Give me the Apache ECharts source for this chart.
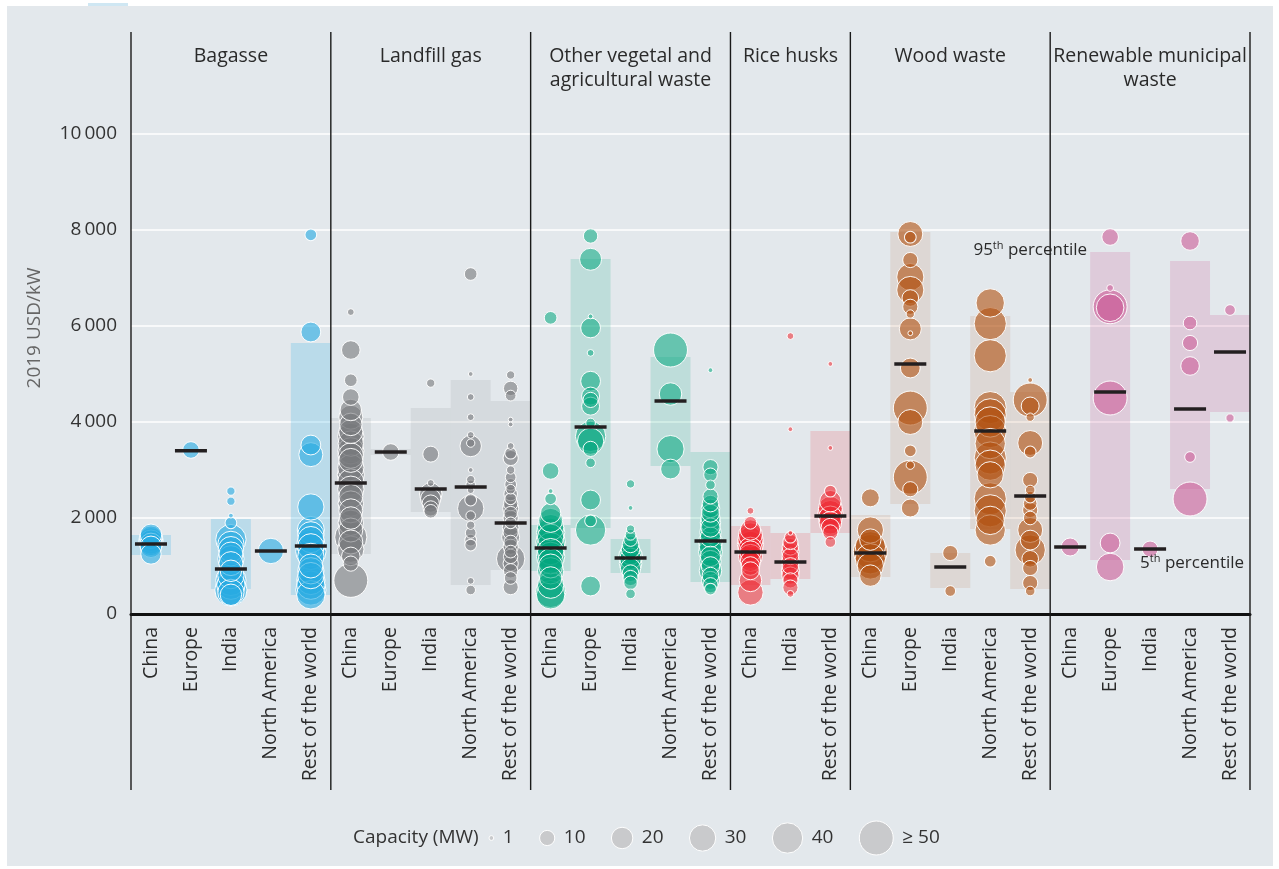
<!DOCTYPE html>
<html><head><meta charset="utf-8">
<script src="https://cdn.jsdelivr.net/npm/echarts@6/dist/echarts.min.js"></script>
<style>html,body{margin:0;padding:0;background:#fff;}#c{width:1279px;height:869px;}</style>
</head><body><div id="c"></div>
<script>
// ---------------- DATA ----------------
const regions5 = ['China', 'Europe', 'India', 'North America', 'Rest of the world'];
const regions3 = ['China', 'India', 'Rest of the world'];
const groupNames = ['Bagasse', 'Landfill gas', 'Other vegetal and\nagricultural waste', 'Rice husks', 'Wood waste', 'Renewable municipal\nwaste'];
const yTicks = [0, 2000, 4000, 6000, 8000, 10000];
const legendCapacities = [1, 10, 20, 30, 40, 50];
const legendLabels = ['1', '10', '20', '30', '40', '\u2265 50'];

// points: [2019 USD/kW, capacity MW], one list per region
const bagassePoints = [
  [[1650,20],[1600,22],[1550,25],[1500,25],[1450,22],[1400,20],[1250,18]],
  [[3417,12]],
  [[2560,3],[2350,3],[2050,1],[1900,6],[1550,40],[1450,30],[1350,28],[1250,25],[1150,30],[1050,25],[900,20],[800,30],[700,40],[600,35],[500,45],[450,30],[400,20]],
  [[1313,28]],
  [[7900,6],[5875,17],[3520,17],[3320,25],[2230,30],[1750,32],[1650,30],[1550,30],[1450,35],[1400,30],[1300,40],[1200,30],[1000,25],[900,30],[800,30],[700,35],[600,35],[500,40],[400,35]]
];
const bagasseMedian = [1458, 3400, 938, 1313, 1417];
const bagasseP5 = [1229, null, 521, null, 396];
const bagasseP95 = [1646, null, 1979, null, 5646];

const landfillPoints = [
  [[6290,2],[5500,15],[4870,7],[4520,12],[4250,20],[4100,25],[3950,22],[3800,25],[3700,30],[3550,28],[3400,30],[3300,28],[3200,25],[3050,30],[2900,32],[2750,30],[2600,30],[2450,25],[2300,28],[2150,25],[2000,22],[1900,28],[1750,25],[1600,45],[1500,25],[1350,30],[1200,15],[1050,10],[700,50]],
  [[3375,12]],
  [[4810,3],[3330,11],[2730,2],[2500,22],[2400,18],[2300,13],[2200,10],[2140,8]],
  [[7083,7],[5000,1],[4520,2],[4100,2],[3730,2],[3560,3],[3500,20],[3000,1],[2800,3],[2690,4],[2580,2],[2375,6],[2200,30],[2050,4],[1850,3],[1690,5],[1540,6],[1437,6],[690,2],[500,4]],
  [[4980,3],[4700,9],[4550,5],[4050,1],[3950,1],[3500,2],[3350,6],[3250,10],[3000,3],[2850,5],[2700,6],[2600,4],[2500,8],[2400,6],[2300,9],[2200,11],[2100,8],[2000,10],[1900,6],[1800,12],[1700,10],[1600,14],[1500,8],[1400,10],[1300,7],[1200,9],[1150,35],[1050,10],[900,9],[750,7],[560,10]]
];
const landfillMedian = [2729, 3375, 2604, 2646, 1896];
const landfillP5 = [1250, 3310, 2125, 604, 917];
const landfillP95 = [4083, 3440, 4292, 4875, 4437];

const vegetalPoints = [
  [[6170,7],[2980,12],[2560,1],[2400,6],[2100,18],[1950,25],[1800,30],[1700,35],[1600,30],[1500,38],[1400,35],[1300,30],[1200,35],[1100,28],[1000,25],[900,30],[750,22],[600,30],[450,40],[400,35]],
  [[7875,9],[7390,21],[6200,1],[5960,17],[5440,2],[4850,17],[4540,14],[4460,10],[4330,14],[3980,4],[3700,40],[3600,30],[3440,10],[3150,4],[2375,17],[1940,6],[1750,40],[583,17]],
  [[2710,3],[2210,1],[1770,3],[1650,5],[1550,8],[1450,12],[1350,15],[1250,20],[1200,25],[1150,20],[1050,22],[950,18],[850,12],[750,10],[650,8],[420,4]],
  [[5500,50],[4583,22],[3437,32],[3020,17]],
  [[5080,1],[3060,10],[2900,8],[2690,4],[2450,10],[2300,12],[2200,15],[2100,14],[2000,16],[1900,18],[1800,16],[1700,20],[1600,18],[1500,25],[1400,22],[1300,25],[1200,18],[1100,20],[1000,15],[900,22],[800,12],[700,14],[600,10],[520,6]]
];
const vegetalMedian = [1375, 3896, 1167, 4437, 1521];
const vegetalP5 = [896, 1792, 854, 3083, 667];
const vegetalP95 = [1854, 7396, 1562, 5354, 3375];

const ricePoints = [
  [[2150,2],[1900,7],[1750,18],[1650,25],[1550,28],[1450,30],[1350,25],[1300,20],[1200,25],[1100,18],[1000,15],[900,14],[700,22],[450,28]],
  [[5790,2],[3850,1],[1690,1],[1600,6],[1500,10],[1400,12],[1300,13],[1200,12],[1100,14],[1000,12],[900,14],[800,13],[700,10],[550,10],[420,2]],
  [[5210,1],[3460,1],[2560,6],[2350,20],[2200,25],[2100,28],[2000,25],[1900,22],[1800,15],[1700,10],[1500,5]]
];
const riceMedian = [1292, 1083, 2042];
const riceP5 = [604, 729, 1688];
const riceP95 = [1833, 1688, 3812];

const woodPoints = [
  [[2420,14],[1750,30],[1550,20],[1400,40],[1300,50],[1150,40],[1000,30],[800,20]],
  [[7917,27],[7850,6],[7375,10],[7020,32],[6750,32],[6583,12],[6400,10],[6250,3],[5940,21],[5850,1],[5125,17],[4290,50],[4000,27],[3400,6],[3100,3],[2850,50],[2600,10],[2208,14]],
  [[1271,10],[479,5]],
  [[6480,35],[6050,45],[5380,45],[4300,45],[4150,45],[4000,40],[3800,45],[3550,40],[3250,45],[3100,40],[2900,30],[2400,45],[2150,45],[1950,35],[1750,40],[1100,6]],
  [[4875,1],[4458,50],[4333,14],[4100,3],[3563,27],[3375,6],[2792,10],[2583,4],[2437,6],[2300,8],[2167,10],[2000,8],[1750,27],[1540,17],[1333,40],[1150,12],[958,10],[646,10],[479,4]]
];
const woodMedian = [1271, 5208, 979, 3812, 2458];
const woodP5 = [771, 2292, 542, 1771, 521];
const woodP95 = [2062, 7958, 1271, 6208, 4625];

const municipalPoints = [
  [[1396,14]],
  [[7854,12],[6792,2],[6400,50],[6380,33],[4500,50],[1479,17],[979,33]],
  [[1354,11]],
  [[7771,15],[6062,8],[5646,10],[5167,15],[3271,5],[2396,50]],
  [[6333,5],[4083,3]]
];
const municipalMedian = [1396, 4625, 1354, 4270, 5458];
const municipalP5 = [null, 1125, null, 2604, 4208];
const municipalP95 = [null, 7542, null, 7354, 6229];

// ---------------- STYLE / BUILD ----------------
const FONT = '"Open Sans", "Noto Sans", sans-serif';
const groups = [
  {regions: regions5, points: bagassePoints, median: bagasseMedian, p5: bagasseP5, p95: bagasseP95, rgb: '41,171,226', a: 0.62, boxA: 0.22},
  {regions: regions5, points: landfillPoints, median: landfillMedian, p5: landfillP5, p95: landfillP95, rgb: '118,120,123', a: 0.6, boxA: 0.12},
  {regions: regions5, points: vegetalPoints, median: vegetalMedian, p5: vegetalP5, p95: vegetalP95, rgb: '0,166,126', a: 0.55, boxA: 0.16},
  {regions: regions3, points: ricePoints, median: riceMedian, p5: riceP5, p95: riceP95, rgb: '238,36,46', a: 0.55, boxA: 0.15},
  {regions: regions5, points: woodPoints, median: woodMedian, p5: woodP5, p95: woodP95, rgb: '176,80,15', a: 0.6, boxA: 0.11},
  {regions: regions5, points: municipalPoints, median: municipalMedian, p5: municipalP5, p95: municipalP95, rgb: '204,91,151', a: 0.6, boxA: 0.2}
];
const capToSize = c => Math.max(2.5, 4.8 * Math.sqrt(Math.min(c, 50)));

const categories = [];
const boxData = [];
const medianData = [];
const boundaries = [[0, 0]];
const titleData = [];
const bubbleSeries = [];
let off = 0;
groups.forEach((g, gi) => {
  const pts = [];
  g.regions.forEach((r, i) => {
    categories.push(r);
    const x = off + i + 0.5;
    if (g.p5[i] != null) boxData.push([x, g.p5[i], g.p95[i], gi]);
    medianData.push([x, g.median[i]]);
    g.points[i].forEach(p => pts.push([x, p[0], p[1]]));
  });
  pts.sort((a, b) => b[2] - a[2]);
  bubbleSeries.push({
    type: 'scatter', xAxisIndex: 1, yAxisIndex: 0, z: 3,
    data: pts,
    symbolSize: v => capToSize(v[2]),
    itemStyle: {color: 'rgba(' + g.rgb + ',' + g.a + ')', borderColor: 'rgba(255,255,255,0.95)', borderWidth: 1, opacity: 1},
    emphasis: {disabled: true}, silent: true
  });
  titleData.push([off + g.regions.length / 2, 0, gi]);
  off += g.regions.length;
  boundaries.push([off, 0]);
});
const totalCats = off;
// annotation anchored to municipal Europe percentile box
const muniEuropeX = totalCats - 5 + 1;
const annotData = [[muniEuropeX, municipalP95[1], 0], [muniEuropeX + 1, municipalP5[1], 1]];

const chart = echarts.init(document.getElementById('c'), null, {renderer: 'canvas'});

// legend layout (computed)
const LFS = 19;
const legendEls = [];
legendEls.push({type: 'text', x: 353, y: 838, style: {text: 'Capacity (MW)', font: LFS + 'px ' + FONT, fill: '#333', textVerticalAlign: 'middle'}});
let cursor = 489;
legendCapacities.forEach((c, i) => {
  const r = capToSize(c) / 2;
  const cx = cursor + r;
  legendEls.push({type: 'circle', shape: {cx: cx, cy: 838, r: r}, style: {fill: '#c9cacc', stroke: '#fff', lineWidth: 1}});
  const tx = cx + r + 9;
  legendEls.push({type: 'text', x: tx, y: 838, style: {text: legendLabels[i], font: LFS + 'px ' + FONT, fill: '#333', textVerticalAlign: 'middle'}});
  cursor = tx + legendLabels[i].length * 10.8 + 26;
});

const option = {
  backgroundColor: '#fff',
  animation: false,
  textStyle: {fontFamily: FONT},
  graphic: [
    {type: 'rect', z: -10, shape: {x: 7, y: 6, width: 1266, height: 860}, style: {fill: '#e3e8ec'}},
    {type: 'rect', z: -9, shape: {x: 88, y: 3, width: 40, height: 3}, style: {fill: '#cfe7f3'}},
    {type: 'text', x: 35, y: 328, rotation: Math.PI / 2, style: {text: '2019 USD/kW', font: '19px ' + FONT, fill: '#666', textAlign: 'center', textVerticalAlign: 'middle'}},
    ...legendEls
  ],
  grid: {left: 131, right: 29, top: 134, bottom: 255, containLabel: false},
  xAxis: [
    {type: 'category', data: categories, gridIndex: 0, position: 'bottom', boundaryGap: true,
     axisLine: {show: true, lineStyle: {color: '#111', width: 3}},
     axisTick: {show: false},
     axisLabel: {rotate: 90, fontSize: 19.5, color: '#2a2a2a', margin: 13, interval: 0, fontFamily: FONT},
     splitLine: {show: false}, z: 4},
    {type: 'value', min: 0, max: totalCats, show: false, gridIndex: 0}
  ],
  yAxis: [{type: 'value', min: yTicks[0], max: yTicks[yTicks.length - 1], interval: 2000,
    axisLine: {show: false}, axisTick: {show: false},
    axisLabel: {fontSize: 19, color: '#333', margin: 14, fontFamily: FONT,
      formatter: v => String(v).replace(/\B(?=(\d{3})+(?!\d))/g, '\u2009')},
    splitLine: {show: true, lineStyle: {color: '#ffffff', width: 1.5}}}],
  series: [
    {type: 'custom', name: 'boxes', xAxisIndex: 1, yAxisIndex: 0, z: 1, silent: true,
     data: boxData, encode: {x: 0, y: [1, 2]},
     renderItem: (params, api) => {
       const x = api.value(0), lo = api.value(1), hi = api.value(2), gi = api.value(3);
       const p1 = api.coord([x - 0.5, hi]);
       const p2 = api.coord([x + 0.5, lo]);
       return {type: 'rect', shape: {x: p1[0], y: p1[1], width: p2[0] - p1[0], height: p2[1] - p1[1]},
         style: {fill: 'rgba(' + groups[gi].rgb + ',' + groups[gi].boxA + ')'}};
     }},
    ...bubbleSeries,
    {type: 'scatter', name: 'median', xAxisIndex: 1, yAxisIndex: 0, z: 6, silent: true,
     data: medianData, symbol: 'rect', symbolSize: [32, 3.5],
     itemStyle: {color: '#231f20', opacity: 1}},
    {type: 'custom', name: 'dividers', xAxisIndex: 1, yAxisIndex: 0, z: 7, silent: true, clip: false,
     data: boundaries, encode: {x: 0, y: 1},
     renderItem: (params, api) => {
       const v = api.value(0);
       const b = api.coord([v, yTicks[0]]);
       const t = api.coord([v, yTicks[yTicks.length - 1]]);
       return {type: 'line', shape: {x1: b[0], y1: t[1] - 102, x2: b[0], y2: b[1] + 176},
         style: {stroke: '#1a1a1a', lineWidth: 1.4}};
     }},
    {type: 'custom', name: 'titles', xAxisIndex: 1, yAxisIndex: 0, z: 7, silent: true, clip: false,
     data: titleData, encode: {x: 0, y: 1},
     renderItem: (params, api) => {
       const c = api.value(0), gi = api.value(2);
       const t = api.coord([c, yTicks[yTicks.length - 1]]);
       return {type: 'text', x: t[0], y: t[1] - 90,
         style: {text: groupNames[gi], font: '19.5px ' + FONT, fill: '#2a2a2a', textAlign: 'center', textVerticalAlign: 'top', lineHeight: 24}};
     }},
    {type: 'custom', name: 'annotations', xAxisIndex: 1, yAxisIndex: 0, z: 8, silent: true, clip: false,
     data: annotData, encode: {x: 0, y: 1},
     renderItem: (params, api) => {
       const x = api.value(0), v = api.value(1), k = api.value(2);
       const p = api.coord([x, v]);
       const txt = k === 0 ? '{n|95}{s|th}{n| percentile}' : '{n|5}{s|th}{n| percentile}';
       return {type: 'text', x: k === 0 ? p[0] - 3 : p[0] + 10, y: k === 0 ? p[1] - 2 : p[1] + 3,
         style: {text: txt, textAlign: k === 0 ? 'right' : 'left', textVerticalAlign: 'middle',
           rich: {n: {fontSize: 17, fontFamily: FONT, fill: '#2a2a2a', color: '#2a2a2a'},
                  s: {fontSize: 11, fontFamily: FONT, fill: '#2a2a2a', color: '#2a2a2a', padding: [0, 0, 8, 0]}}}};
     }}
  ]
};
chart.setOption(option);
</script>
</body></html>
